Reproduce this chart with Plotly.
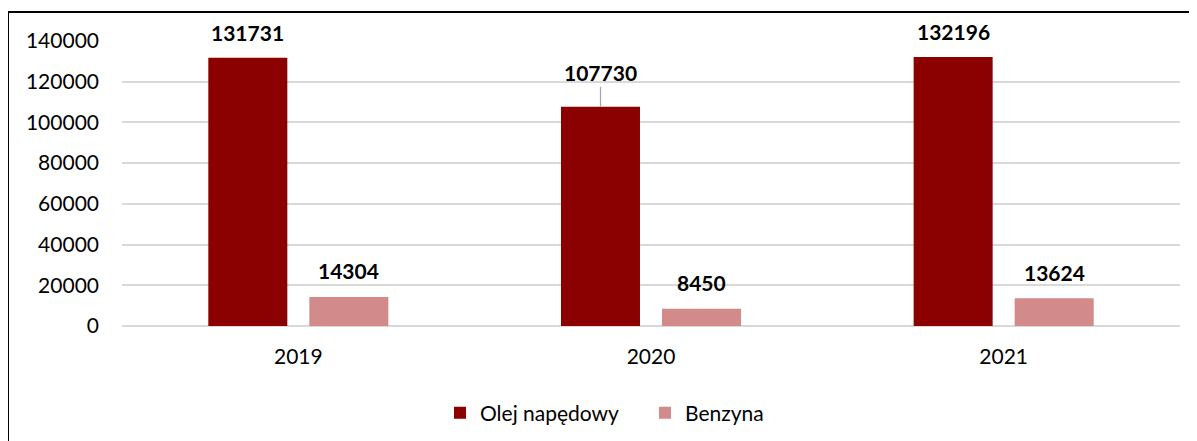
import plotly.graph_objects as go

years = ["2019", "2020", "2021"]
olej = [131731, 107730, 132196]
benzyna = [14304, 8450, 13624]
series_names = ["Olej napędowy", "Benzyna"]
y_ticks = [0, 20000, 40000, 60000, 80000, 100000, 120000, 140000]

DARK = "#8B0000"
LIGHT = "#D38A8A"
FONT = "Lato"

fig = go.Figure()
fig.add_trace(go.Bar(x=years, y=olej, name=series_names[0], marker=dict(color=DARK, line=dict(width=0))))
fig.add_trace(go.Bar(x=years, y=benzyna, name=series_names[1], marker=dict(color=LIGHT, line=dict(width=0))))

# page body has an 8px margin; figure coordinates are offset by it
OFF = 8
W, H = 1189, 433
ml, mt = 122 - OFF, 41 - OFF
plot_right, plot_bottom = 1180 - OFF, 326 - OFF
mr, mb = W - plot_right, H - plot_bottom
pw = W - ml - mr
ph = H - mt - mb

def px_to_paper_x(px):
    return (px - OFF - ml) / pw

def px_to_paper_y(py):
    return (H - mb - (py - OFF)) / ph

off = 0.1432
annotations = []
for i, (a, b) in enumerate(zip(olej, benzyna)):
    if i == 1:
        annotations.append(dict(x=i - off, y=a, xref="x", yref="y", text=f"<b>{a}</b>",
                                showarrow=True, arrowhead=0, arrowwidth=1.2, arrowcolor="#A6A6A6",
                                ax=0, ay=-34, standoff=0,
                                font=dict(family=FONT, size=21, color="black")))
    else:
        annotations.append(dict(x=i - off, y=a, xref="x", yref="y", text=f"<b>{a}</b>",
                                showarrow=False, yshift=25, yanchor="middle",
                                font=dict(family=FONT, size=21, color="black")))
    annotations.append(dict(x=i + off, y=b, xref="x", yref="y", text=f"<b>{b}</b>",
                            showarrow=False, yshift=26, yanchor="middle",
                            font=dict(family=FONT, size=21, color="black")))

shapes = [
    dict(type="line", xref="paper", yref="paper",
         x0=px_to_paper_x(8), x1=px_to_paper_x(1230),
         y0=px_to_paper_y(12), y1=px_to_paper_y(12),
         line=dict(color="black", width=2)),
    dict(type="line", xref="paper", yref="paper",
         x0=px_to_paper_x(8), x1=px_to_paper_x(8),
         y0=px_to_paper_y(12), y1=px_to_paper_y(480),
         line=dict(color="black", width=2)),
]

fig.update_layout(
    width=W, height=H,
    margin=dict(l=ml, r=mr, t=mt, b=mb, pad=0, autoexpand=False),
    plot_bgcolor="white", paper_bgcolor="white",
    barmode="group", bargap=0.427, bargroupgap=0.218,
    font=dict(family=FONT, size=21, color="black"),
    showlegend=True,
    legend=dict(orientation="h", x=px_to_paper_x(440), xanchor="left",
                y=px_to_paper_y(413), yanchor="middle",
                font=dict(family=FONT, size=21, color="black"),
                itemwidth=30, entrywidth=160, traceorder="normal"),
    annotations=annotations,
    shapes=shapes,
    xaxis=dict(type="category", showgrid=False, showline=False, zeroline=False,
               ticks="outside", ticklen=12, tickcolor="rgba(0,0,0,0)",
               tickfont=dict(family=FONT, size=21, color="black")),
    yaxis=dict(range=[0, 140000], tickvals=y_ticks, ticktext=[str(v) for v in y_ticks],
               showgrid=True, gridcolor="#D9D9D9", gridwidth=1.5,
               zeroline=True, zerolinecolor="#D9D9D9", zerolinewidth=1.5,
               showline=False, ticklabelstandoff=22,
               tickfont=dict(family=FONT, size=21, color="black")),
)

fig.write_html("out.html")
